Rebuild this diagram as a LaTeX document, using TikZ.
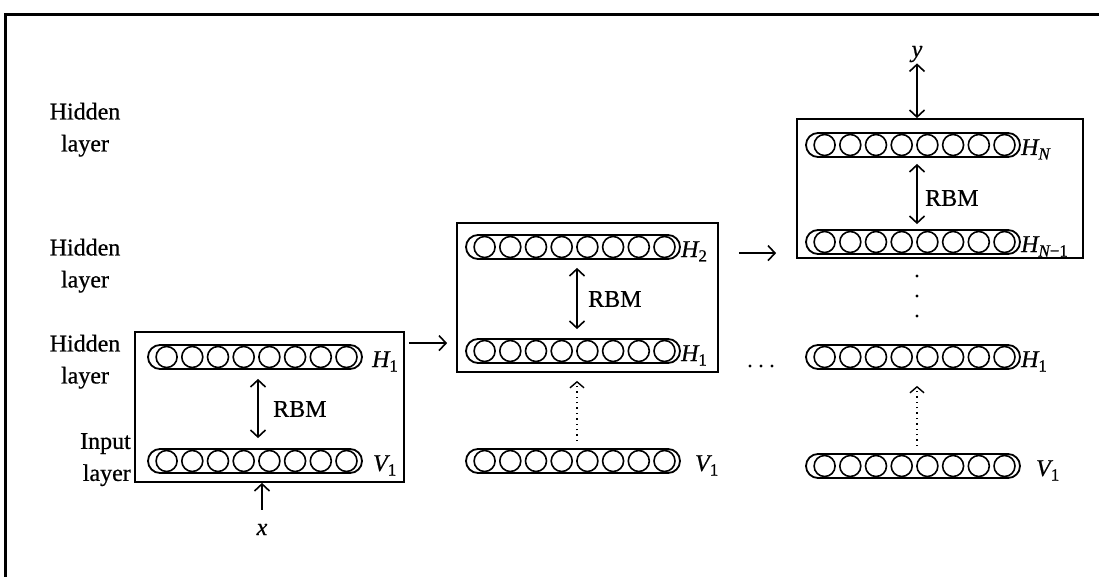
\documentclass[tikz,border=0pt]{standalone}
\usepackage{fontspec}
\setmainfont{Liberation Serif}[FakeBold=0.6]
\usetikzlibrary{arrows.meta,calc}
\newcommand{\lbl}[2]{{\itshape #1}\raisebox{-4.5pt}{\fontsize{17}{17}\selectfont #2}}
\newcommand{\rbmlayer}[3]{%
  \node[layerbar] (#1) at (#2,#3) {};
  \foreach \i in {0,...,7} \draw[unit] ($(#1.west)+(19.5+\i*25.7,0)$) circle[radius=10.5pt];
}
\tikzset{
  frame/.style={line width=3.5pt},
  stack/.style={draw, line width=1.8pt, inner sep=0pt},
  layerbar/.style={draw, line width=1.8pt, minimum width=214pt, minimum height=24pt, rounded corners=12pt, inner sep=0pt},
  unit/.style={line width=1.6pt},
  rbm/.style={line width=1.6pt, {Straight Barb[length=7pt,width=15pt]}-{Straight Barb[length=7pt,width=15pt]}},
  feed/.style={line width=1.6pt, -{Straight Barb[length=7pt,width=15pt]}},
  dotfeed/.style={line width=1.4pt, dash pattern=on 1.4pt off 4pt, -{Straight Barb[length=6pt,width=14pt]}},
  side/.style={font=\fontsize{24}{32}\selectfont, inner sep=0pt},
  rbmtext/.style={font=\fontsize{24}{24}\selectfont, inner sep=0pt, anchor=west},
  tag/.style={font=\fontsize{24}{24}\selectfont, inner sep=0pt, anchor=base west},
  io/.style={font=\fontsize{24}{24}\selectfont\itshape, inner sep=0pt},
}
\begin{document}
\begin{tikzpicture}[x=1pt,y=-1pt]
\useasboundingbox (0,0) rectangle (1099,577);
\draw[frame] (5.5,580) -- (5.5,14.3) -- (1102,14.3);

% side labels
\node[side, align=center, anchor=north] (lab3) at (85,102.6) {Hidden\\layer};
\node[side, align=center, anchor=north] (lab2) at (85,238.6) {Hidden\\layer};
\node[side, align=center, anchor=north] (lab1) at (85,334.6) {Hidden\\layer};
\node[side, align=right, anchor=north east] (lab0) at (131,433) {Input\\layer};

% boxes
\node[stack, minimum width=269pt, minimum height=150pt] (box1) at (269.5,407) {};
\node[stack, minimum width=261pt, minimum height=149pt] (box2) at (587.5,297.5) {};
\node[stack, minimum width=286pt, minimum height=139pt] (box3) at (940,188.5) {};

% layers
\rbmlayer{aH}{255}{357}
\rbmlayer{aV}{255}{461}
\rbmlayer{bH2}{573}{247}
\rbmlayer{bH1}{573}{351}
\rbmlayer{bV}{573}{461}
\rbmlayer{cHN}{913}{145}
\rbmlayer{cHM}{913}{242}
\rbmlayer{cH1}{913}{357}
\rbmlayer{cV}{913}{466}

% layer tags
\node[tag] (taH) at ([xshift=9pt,yshift=-10pt]aH.east) {\lbl{H}{1}};
\node[tag] (taV) at ([xshift=10pt,yshift=-10pt]aV.east) {\lbl{V}{1}};
\node[tag] (tbH2) at ([xshift=0pt,yshift=-10pt]bH2.east) {\lbl{H}{2}};
\node[tag] (tbH1) at ([xshift=0pt,yshift=-10pt]bH1.east) {\lbl{H}{1}};
\node[tag] (tbV) at ([xshift=14pt,yshift=-10pt]bV.east) {\lbl{V}{1}};
\node[tag] (tcHN) at ([xshift=0pt,yshift=-10pt]cHN.east) {\lbl{H}{\itshape N}};
\node[tag] (tcHM) at ([xshift=0pt,yshift=-10pt]cHM.east) {\lbl{H}{{\itshape N}\upshape −1}};
\node[tag] (tcH1) at ([xshift=0pt,yshift=-10pt]cH1.east) {\lbl{H}{1}};
\node[tag] (tcV) at ([xshift=15pt,yshift=-10pt]cV.east) {\lbl{V}{1}};

% RBM arrows and texts
\draw[rbm, shorten <=9pt, shorten >=10pt] ([xshift=3pt]aH.south) -- ([xshift=3pt]aV.north);
\node[rbmtext] (ra) at (273,409) {RBM};
\draw[rbm, shorten <=8pt, shorten >=9pt] ([xshift=4pt]bH2.south) -- ([xshift=4pt]bH1.north);
\node[rbmtext] (rb) at (588,299) {RBM};
\draw[rbm, shorten <=6pt, shorten >=5pt] ([xshift=4pt]cHN.south) -- ([xshift=4pt]cHM.north);
\node[rbmtext] (rc) at (925,198) {RBM};

% dotted feeds
\draw[dotfeed, shorten <=7pt, shorten >=17pt] ([xshift=4pt]bV.north) -- ([xshift=4pt]bH1.south);
\draw[dotfeed, shorten <=7pt, shorten >=16pt] ([xshift=4pt]cV.north) -- ([xshift=4pt]cH1.south);

% horizontal arrows
\draw[feed, shorten <=4pt, shorten >=9pt] ([yshift=-12pt]box1.north east) -- ([yshift=-12pt]box1.north east -| box2.west);
\draw[feed, shorten <=20pt, shorten >=20pt] ([yshift=-31pt]box2.north east) -- ([yshift=-31pt]box2.north east -| box3.west);

% input / output
\node[io, anchor=base] (xin) at (262,535) {x};
\draw[feed, shorten <=14pt] (xin.north) -- (xin.north |- box1.south);
\node[io, anchor=base] (yout) at (917,57) {y};
\draw[rbm, shorten <=1pt] (yout.south) -- (yout.south |- box3.north);

% ellipses
\foreach \yy in {276,296,316} \fill (917,\yy) circle[radius=1.7pt];
\foreach \xx in {750,761,772} \fill (\xx,366) circle[radius=1.7pt];
\end{tikzpicture}
\end{document}
